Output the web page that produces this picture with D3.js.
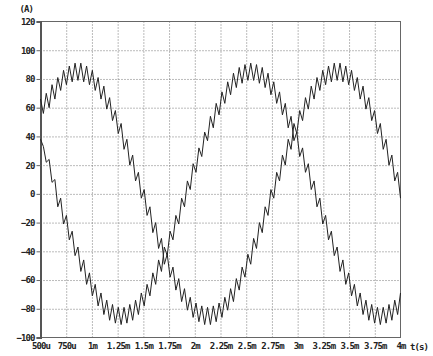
<!DOCTYPE html>
<html>
<head>
<meta charset="utf-8">
<script src="https://cdn.jsdelivr.net/npm/d3@7"></script>
<style>
	body { margin: 0; background: #fff; }
	text { font-family: "DejaVu Sans Mono", monospace; font-size: 9px; font-weight: bold; fill: #222; letter-spacing: -0.9px; }
</style>
</head>
<body>
<svg id="chart" width="433" height="356"></svg>
<script>
// sampled waveform, one value every 28us starting at 500us
var tStart = 500e-6, tStep = 28e-6;

// phase current A (A)
var currentA = [66, 56, 70, 60, 76, 66, 81, 72, 86, 76, 89, 78, 91, 79, 91, 78, 89, 76, 86, 72,
	81, 66, 75, 59, 67, 51, 58, 42, 49, 31, 38, 20, 27, 9, 15, -3, 3, -15, -9, -27,
	-20, -38, -31, -49, -42, -58, -51, -67, -59, -75, -66, -81, -72, -86, -76, -89, -78, -91, -79, -91,
	-78, -89, -76, -86, -72, -81, -66, -75, -59, -67, -51, -58, -42, -49, -31, -38, -20, -27, -9, -15,
	3, -3, 15, 9, 27, 20, 38, 31, 49, 42, 58, 51, 67, 59, 75, 66, 81, 72, 86, 76,
	89, 78, 91, 79, 91, 78, 89, 76, 86, 72, 81, 66, 75, 59, 67, 51, 58, 42, 49, 31,
	38, 20, 27, 9, 15, -3];

// phase current B (A)
var currentB = [38, 33, 22, 24, 8, 10, -9, -3, -21, -15, -32, -26, -43, -37, -54, -46, -63, -55, -71, -63,
	-78, -69, -84, -74, -88, -77, -90, -79, -91, -79, -90, -77, -88, -74, -84, -69, -78, -63, -71, -55,
	-63, -46, -54, -37, -43, -26, -32, -15, -21, -3, -9, 9, 3, 21, 15, 32, 26, 43, 37, 54,
	46, 63, 55, 71, 63, 78, 69, 84, 74, 88, 77, 90, 79, 91, 79, 90, 77, 88, 74, 84,
	69, 78, 63, 71, 55, 63, 46, 54, 37, 43, 26, 32, 15, 21, 3, 9, -9, -3, -21, -15,
	-32, -26, -43, -37, -54, -46, -63, -55, -71, -63, -78, -69, -84, -74, -88, -77, -90, -79, -91, -79,
	-90, -77, -88, -74, -84, -69];

var xTickValues = [500e-6, 750e-6, 1e-3, 1.25e-3, 1.5e-3, 1.75e-3, 2e-3, 2.25e-3, 2.5e-3, 2.75e-3, 3e-3, 3.25e-3, 3.5e-3, 3.75e-3, 4e-3];
var xTickLabels = ["500u", "750u", "1m", "1.25m", "1.5m", "1.75m", "2m", "2.25m", "2.5m", "2.75m", "3m", "3.25m", "3.5m", "3.75m", "4m"];
var yTickValues = [-100, -80, -60, -40, -20, 0, 20, 40, 60, 80, 100, 120];

var plotL = 40.5, plotR = 400.5, plotT = 21.5, plotB = 337.5;

var svg = d3.select("#chart");

var x = d3.scaleLinear().domain([500e-6, 4e-3]).range([plotL, plotR]);
var y = d3.scaleLinear().domain([-100, 120]).range([plotB, plotT]);

// dotted grid
svg.append("g")
	.attr("transform", "translate(0," + plotB + ")")
	.call(d3.axisBottom(x).tickValues(xTickValues.slice(1, -1)).tickSize(-(plotB - plotT)).tickFormat(""))
	.call(function(g) {
		g.select(".domain").remove();
		g.selectAll("line").attr("stroke", "#777").attr("stroke-dasharray", "1,2");
	});

svg.append("g")
	.attr("transform", "translate(" + plotL + ",0)")
	.call(d3.axisLeft(y).tickValues(yTickValues.slice(1, -1)).tickSize(-(plotR - plotL)).tickFormat(""))
	.call(function(g) {
		g.select(".domain").remove();
		g.selectAll("line").attr("stroke", "#777").attr("stroke-dasharray", "1,2");
	});

// frame
svg.append("rect")
	.attr("x", plotL).attr("y", plotT)
	.attr("width", plotR - plotL).attr("height", plotB - plotT)
	.attr("fill", "none").attr("stroke", "#666");

// y axis with labels
svg.append("g")
	.attr("transform", "translate(" + plotL + ",0)")
	.call(d3.axisLeft(y).tickValues(yTickValues).tickSize(4).tickPadding(2).tickFormat(d3.format("d")))
	.call(function(g) {
		g.select(".domain").attr("stroke", "#555").attr("stroke-width", 2);
		g.selectAll("line").attr("stroke", "#666");
		g.selectAll("text").attr("font-family", null).attr("font-size", null);
	});

// x axis labels
svg.append("g")
	.attr("transform", "translate(0," + plotB + ")")
	.call(d3.axisBottom(x).tickValues(xTickValues).tickSize(0).tickPadding(5)
		.tickFormat(function(d, i) { return xTickLabels[i]; }))
	.call(function(g) {
		g.select(".domain").remove();
		g.selectAll("text").attr("font-family", null).attr("font-size", null);
	});

svg.append("text").attr("x", 33).attr("y", 12).attr("text-anchor", "end").text("(A)");
svg.append("text").attr("x", 410).attr("y", 349.5).text("t(s)");

// traces
var line = d3.line()
	.x(function(d, i) { return x(tStart + i * tStep); })
	.y(function(d) { return y(d); });

[currentA, currentB].forEach(function(s) {
	svg.append("path")
		.datum(s)
		.attr("d", line)
		.attr("fill", "none")
		.attr("stroke", "#222")
		.attr("stroke-width", 1);
});
</script>
</body>
</html>
